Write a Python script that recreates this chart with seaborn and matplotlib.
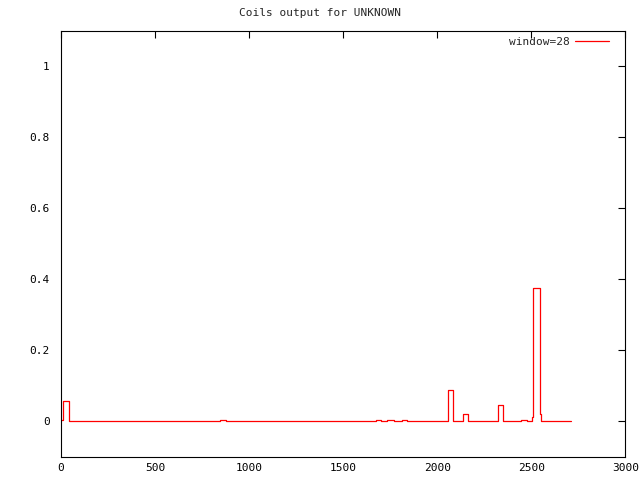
import numpy as np
import pandas as pd
import matplotlib
matplotlib.use("Agg")
import matplotlib.pyplot as plt
import seaborn as sns

# Step edges (residue position) and coil probability on each step
position = [0, 10, 40, 848, 878, 1676, 1702, 1733, 1770, 1812, 1840,
            2057, 2084, 2128, 2139, 2166, 2175, 2318, 2324, 2351,
            2447, 2480, 2503, 2512, 2545, 2550, 2560, 2712]
coils = [0.004, 0.058, 0.0, 0.003, 0.0, 0.003, 0.0, 0.003, 0.0, 0.003, 0.0,
         0.089, 0.0, 0.002, 0.022, 0.002, 0.0, 0.002, 0.045, 0.0,
         0.003, 0.0, 0.012, 0.377, 0.022, 0.002, 0.0, 0.0]

title = "Coils output for UNKNOWN"
label = "window=28"
xticks = [0, 500, 1000, 1500, 2000, 2500, 3000]
yticks = [0, 0.2, 0.4, 0.6, 0.8, 1]

df = pd.DataFrame({"position": position, "coils": coils})

sns.set_style("white")
plt.rcParams["font.family"] = ["DejaVu Sans Mono"]
plt.rcParams["font.size"] = 8

fig = plt.figure(figsize=(6.4, 4.8), dpi=100)
ax = fig.add_axes([0.0953, 0.048, 0.8817, 0.8875])

sns.lineplot(data=df, x="position", y="coils", ax=ax, color="#ff0000",
             linewidth=0.9, drawstyle="steps-post", label=label,
             estimator=None, sort=False)

ax.set_xlim(0, 3000)
ax.set_ylim(-0.1, 1.1)
ax.set_xticks(xticks)
ax.set_xticklabels([str(t) for t in xticks])
ax.set_yticks(yticks)
ax.set_yticklabels(["0", "0.2", "0.4", "0.6", "0.8", "1"])
ax.set_xlabel("")
ax.set_ylabel("")
ax.tick_params(direction="in", length=5, width=0.8, top=True, right=True,
               labelsize=8, colors="black")
ax.tick_params(axis="y", pad=8)
ax.tick_params(axis="x", pad=4)
for s in ax.spines.values():
    s.set_color("black")
    s.set_linewidth(0.8)

fig.text(0.5, 0.972, title, ha="center", va="center", fontsize=8)

leg = ax.legend(loc="upper right", bbox_to_anchor=(0.972, 0.985),
                frameon=False, markerfirst=False, borderpad=0,
                borderaxespad=0, handlelength=3.1, fontsize=8,
                handletextpad=0.5)

fig.savefig("out.png", dpi=100)
